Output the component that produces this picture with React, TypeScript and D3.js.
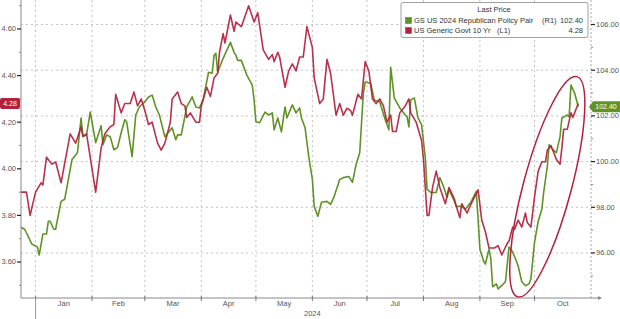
import React from "react";
import * as d3 from "d3";

const yieldSeries: [string, number][] = [
  ["2023-12-24",3.90],["2023-12-27",3.90],["2023-12-29",3.80],["2024-01-01",3.90],["2024-01-04",3.94],["2024-01-05",3.93],["2024-01-07",4.05],["2024-01-10",4.02],["2024-01-12",4.03],["2024-01-15",3.94],["2024-01-20",4.15],["2024-01-23",4.11],["2024-01-26",4.18],["2024-01-27",4.14],["2024-01-29",4.15],["2024-02-03",3.90],["2024-02-06",4.09],["2024-02-08",4.15],["2024-02-11",4.18],["2024-02-13",4.19],["2024-02-14",4.32],["2024-02-17",4.24],["2024-02-19",4.28],["2024-02-22",4.28],["2024-02-24",4.33],["2024-02-26",4.27],["2024-02-28",4.30],["2024-03-01",4.25],["2024-03-03",4.19],["2024-03-05",4.20],["2024-03-08",4.11],["2024-03-10",4.08],["2024-03-12",4.11],["2024-03-15",4.20],["2024-03-16",4.30],["2024-03-19",4.33],["2024-03-21",4.28],["2024-03-23",4.27],["2024-03-24",4.22],["2024-03-26",4.24],["2024-03-29",4.20],["2024-03-31",4.20],["2024-04-01",4.27],["2024-04-04",4.35],["2024-04-06",4.31],["2024-04-08",4.39],["2024-04-10",4.41],["2024-04-11",4.50],["2024-04-13",4.58],["2024-04-14",4.54],["2024-04-17",4.66],["2024-04-19",4.59],["2024-04-20",4.63],["2024-04-23",4.61],["2024-04-27",4.70],["2024-04-30",4.63],["2024-05-02",4.67],["2024-05-05",4.51],["2024-05-08",4.47],["2024-05-10",4.49],["2024-05-11",4.46],["2024-05-13",4.50],["2024-05-14",4.48],["2024-05-17",4.35],["2024-05-19",4.42],["2024-05-21",4.45],["2024-05-23",4.42],["2024-05-25",4.48],["2024-05-27",4.48],["2024-05-29",4.61],["2024-06-01",4.52],["2024-06-02",4.39],["2024-06-05",4.28],["2024-06-07",4.30],["2024-06-09",4.47],["2024-06-11",4.41],["2024-06-14",4.23],["2024-06-16",4.28],["2024-06-18",4.23],["2024-06-20",4.26],["2024-06-22",4.25],["2024-06-23",4.23],["2024-06-26",4.32],["2024-06-28",4.30],["2024-06-30",4.46],["2024-07-02",4.42],["2024-07-04",4.30],["2024-07-06",4.28],["2024-07-08",4.30],["2024-07-10",4.27],["2024-07-12",4.20],["2024-07-14",4.23],["2024-07-15",4.16],["2024-07-17",4.16],["2024-07-19",4.24],["2024-07-22",4.27],["2024-07-24",4.30],["2024-07-25",4.24],["2024-07-28",4.20],["2024-07-31",4.12],["2024-08-01",4.04],["2024-08-03",3.80],["2024-08-04",3.80],["2024-08-06",3.92],["2024-08-08",3.99],["2024-08-10",3.92],["2024-08-13",3.85],["2024-08-15",3.92],["2024-08-18",3.87],["2024-08-19",3.84],["2024-08-21",3.79],["2024-08-22",3.85],["2024-08-25",3.81],["2024-08-26",3.83],["2024-08-31",3.91],["2024-09-02",3.78],["2024-09-04",3.73],["2024-09-06",3.66],["2024-09-09",3.66],["2024-09-11",3.67],["2024-09-13",3.63],["2024-09-16",3.68],["2024-09-17",3.69],["2024-09-19",3.75],["2024-09-20",3.74],["2024-09-22",3.78],["2024-09-24",3.75],["2024-09-26",3.81],["2024-09-27",3.77],["2024-09-29",3.75],["2024-10-01",3.88],["2024-10-03",3.99],["2024-10-05",4.03],["2024-10-07",4.03],["2024-10-08",4.08],["2024-10-10",4.10],["2024-10-12",4.06],["2024-10-13",4.04],["2024-10-15",4.02],["2024-10-16",4.09],["2024-10-17",4.17],["2024-10-19",4.17],["2024-10-21",4.24],["2024-10-22",4.22],["2024-10-23",4.24],["2024-10-25",4.28]
];

const pairSeries: [string, number][] = [
  ["2023-12-24",97.13],["2023-12-26",97.04],["2023-12-30",96.39],["2024-01-02",96.26],["2024-01-03",95.91],["2024-01-05",96.83],["2024-01-07",96.83],["2024-01-08",97.39],["2024-01-09",97.39],["2024-01-11",97.04],["2024-01-12",97.04],["2024-01-15",98.26],["2024-01-17",98.35],["2024-01-18",98.78],["2024-01-21",100.09],["2024-01-24",100.39],["2024-01-26",101.91],["2024-01-27",101.09],["2024-01-29",101.17],["2024-01-31",102.17],["2024-02-03",100.83],["2024-02-06",101.57],["2024-02-07",100.74],["2024-02-09",101.17],["2024-02-11",101.09],["2024-02-13",100.52],["2024-02-15",100.61],["2024-02-17",101.26],["2024-02-19",101.83],["2024-02-20",101.74],["2024-02-23",100.22],["2024-02-25",102.04],["2024-02-27",102.39],["2024-03-01",102.61],["2024-03-03",102.83],["2024-03-05",102.91],["2024-03-07",102.39],["2024-03-09",102.04],["2024-03-12",101.09],["2024-03-16",101.48],["2024-03-18",100.96],["2024-03-19",101.17],["2024-03-21",101.17],["2024-03-24",102.39],["2024-03-27",102.83],["2024-03-29",102.39],["2024-03-31",102.35],["2024-04-02",102.70],["2024-04-05",103.91],["2024-04-07",103.87],["2024-04-08",104.65],["2024-04-09",104.74],["2024-04-10",103.91],["2024-04-13",104.52],["2024-04-15",104.87],["2024-04-17",105.22],["2024-04-19",104.78],["2024-04-20",104.65],["2024-04-21",104.43],["2024-04-23",104.43],["2024-04-26",103.78],["2024-04-29",103.35],["2024-04-30",102.70],["2024-05-01",101.74],["2024-05-03",101.70],["2024-05-06",102.17],["2024-05-08",102.04],["2024-05-10",102.13],["2024-05-11",101.39],["2024-05-13",101.91],["2024-05-15",101.30],["2024-05-17",102.39],["2024-05-18",101.91],["2024-05-21",102.48],["2024-05-23",102.13],["2024-05-25",102.35],["2024-05-26",101.91],["2024-05-28",101.48],["2024-05-30",100.22],["2024-06-01",99.22],["2024-06-02",98.04],["2024-06-04",97.61],["2024-06-06",98.22],["2024-06-09",98.26],["2024-06-11",98.13],["2024-06-13",98.48],["2024-06-16",99.22],["2024-06-18",99.30],["2024-06-21",99.35],["2024-06-23",99.09],["2024-06-25",99.87],["2024-06-27",100.39],["2024-06-29",103.00],["2024-06-30",103.48],["2024-07-03",103.43],["2024-07-05",102.70],["2024-07-08",102.61],["2024-07-11",101.83],["2024-07-13",101.39],["2024-07-14",104.13],["2024-07-16",102.78],["2024-07-19",102.35],["2024-07-22",102.04],["2024-07-23",101.96],["2024-07-24",101.52],["2024-07-25",102.70],["2024-07-27",102.78],["2024-07-29",101.91],["2024-07-31",101.61],["2024-08-02",100.17],["2024-08-03",98.78],["2024-08-05",98.65],["2024-08-08",98.65],["2024-08-10",99.30],["2024-08-12",98.91],["2024-08-14",98.43],["2024-08-15",98.78],["2024-08-18",98.26],["2024-08-19",98.04],["2024-08-22",98.04],["2024-08-24",97.91],["2024-08-27",98.22],["2024-08-30",98.70],["2024-08-31",97.48],["2024-09-01",96.17],["2024-09-03",95.65],["2024-09-04",95.52],["2024-09-06",96.17],["2024-09-07",95.74],["2024-09-08",94.52],["2024-09-10",94.65],["2024-09-11",94.43],["2024-09-13",94.57],["2024-09-15",94.74],["2024-09-17",96.26],["2024-09-19",96.04],["2024-09-21",95.65],["2024-09-22",95.43],["2024-09-24",94.74],["2024-09-26",94.57],["2024-09-28",94.65],["2024-09-29",94.87],["2024-10-01",96.48],["2024-10-03",97.39],["2024-10-05",97.91],["2024-10-06",98.65],["2024-10-08",99.78],["2024-10-09",100.74],["2024-10-11",100.52],["2024-10-13",100.39],["2024-10-15",101.09],["2024-10-16",101.91],["2024-10-19",102.04],["2024-10-20",101.96],["2024-10-21",103.35],["2024-10-23",103.00],["2024-10-25",102.40]
];

const leftTicks = [3.6, 3.8, 4.0, 4.2, 4.4, 4.6];
const leftMinor = [3.5, 3.7, 3.9, 4.1, 4.3, 4.5, 4.7];
const rightTicks = [96, 98, 100, 102, 104, 106];
const rightMinor = [95, 97, 99, 101, 103, 105];
const monthLabels = ["Jan", "Feb", "Mar", "Apr", "May", "Jun", "Jul", "Aug", "Sep", "Oct"];
const yearLabel = "2024";
const legendTitle = "Last Price";
const seriesNames = ["GS US 2024 Republican Policy Pair", "US Generic Govt 10 Yr"];
const seriesAxes = ["(R1)", "(L1)"];
const lastValues = [102.4, 4.28];

const GREEN = "#5f9326";
const RED = "#b3203d";
const FONT = "'Liberation Sans', Arial, sans-serif";

export default function App() {
  const W = 620, H = 319;
  const parse = d3.timeParse("%Y-%m-%d");
  const x = d3.scaleTime()
    .domain([new Date(2023, 11, 24), new Date(2024, 10, 1)])
    .range([21, 591]);
  const yL = d3.scaleLinear().domain([3.6, 4.6]).range([262, 29]);
  const yR = d3.scaleLinear().domain([96, 106]).range([253, 24.5]);
  const bottom = 298;

  const yieldData = yieldSeries.map(([d, v]) => ({ d: parse(d)!, v }));
  const pairData = pairSeries.map(([d, v]) => ({ d: parse(d)!, v }));
  const lineL = d3.line<{ d: Date; v: number }>().x(p => x(p.d)).y(p => yL(p.v));
  const lineR = d3.line<{ d: Date; v: number }>().x(p => x(p.d)).y(p => yR(p.v));

  const months = d3.timeMonth.range(new Date(2024, 0, 1), new Date(2024, 10, 1));
  const grid = "#c4c4c4";
  const textCol = "#555";

  const ellCx = x(new Date(2024, 9, 8)), ellCy = yR(98.9);

  const lastR = yR(lastValues[0]);
  const lastL = yL(lastValues[1]);

  return (
    <svg width={W} height={H} style={{ position: "absolute", left: 0, top: 0, background: "#fff" }} fontFamily={FONT}>
      <rect x={0} y={0} width={W} height={H} fill="#fff" />
      {rightTicks.map(t => (
        <line key={"hg" + t} x1={21} x2={591} y1={yR(t)} y2={yR(t)} stroke={grid} strokeWidth={1} strokeDasharray="2,3" />
      ))}
      {months.map((m, i) => (
        <line key={"vg" + i} x1={x(m)} x2={x(m)} y1={0} y2={bottom} stroke={grid} strokeWidth={1} strokeDasharray="2,3" />
      ))}
      <line x1={591} x2={591} y1={0} y2={bottom} stroke="#aaa" strokeWidth={1} strokeDasharray="2,2" />
      <path d={lineR(pairData) || ""} fill="none" stroke={GREEN} strokeWidth={1.6} strokeLinejoin="round" />
      <path d={lineL(yieldData) || ""} fill="none" stroke={RED} strokeWidth={1.6} strokeLinejoin="round" opacity={0.92} />
      <ellipse cx={ellCx} cy={ellCy} rx={24} ry={114} fill="none" stroke={RED} strokeWidth={1.5}
        transform={`rotate(15, ${ellCx}, ${ellCy})`} />
      <line x1={21} x2={21} y1={0} y2={bottom} stroke="#888" strokeWidth={1} />
      {leftMinor.map(t => (
        <line key={"lm" + t} x1={19} x2={21} y1={yL(t)} y2={yL(t)} stroke="#888" strokeWidth={1} />
      ))}
      {leftTicks.map(t => (
        <g key={"lt" + t}>
          <line x1={17} x2={21} y1={yL(t)} y2={yL(t)} stroke="#222" strokeWidth={1.2} />
          <text x={16} y={yL(t)} dy="0.33em" textAnchor="end" fontSize={7.5} fill={textCol}>{t.toFixed(2)}</text>
        </g>
      ))}
      {rightMinor.map(t => (
        <line key={"rm" + t} x1={591} x2={593} y1={yR(t)} y2={yR(t)} stroke="#888" strokeWidth={1} />
      ))}
      {rightTicks.map(t => (
        <g key={"rt" + t}>
          <line x1={591} x2={595} y1={yR(t)} y2={yR(t)} stroke="#222" strokeWidth={1.2} />
          <text x={596} y={yR(t)} dy="0.33em" fontSize={7.5} fill={textCol}>{t.toFixed(2)}</text>
        </g>
      ))}
      <line x1={21} x2={598} y1={bottom} y2={bottom} stroke="#888" strokeWidth={1} />
      <path d={`M598,${bottom - 2} L602,${bottom} L598,${bottom + 2} Z`} fill="#888" />
      {months.map((m, i) => (
        <line key={"bt" + i} x1={x(m)} x2={x(m)} y1={bottom - 2} y2={bottom + 3} stroke="#777" strokeWidth={1} />
      ))}
      {months.map((m, i) => {
        const next = d3.timeMonth.offset(m, 1);
        return (
          <text key={"ml" + i} x={(x(m) + x(next)) / 2} y={306} textAnchor="middle" fontSize={7.5} fill={textCol}>
            {monthLabels[i]}
          </text>
        );
      })}
      <line x1={x(months[0])} x2={x(months[0])} y1={bottom} y2={H} stroke="#999" strokeWidth={1} />
      <text x={x(new Date(2024, 5, 1))} y={316} textAnchor="middle" fontSize={7.5} fill={textCol}>{yearLabel}</text>
      <rect x={0} y={lastL - 5.5} width={20} height={11} rx={2} fill={RED} />
      <text x={10} y={lastL} dy="0.33em" textAnchor="middle" fontSize={7} fill="#fff">{lastValues[1].toFixed(2)}</text>
      <path d={`M589,${lastR} L593,${lastR - 5.5} L620,${lastR - 5.5} L620,${lastR + 5.5} L593,${lastR + 5.5} Z`} fill={GREEN} />
      <text x={606} y={lastR} dy="0.33em" textAnchor="middle" fontSize={7} fill="#fff">{lastValues[0].toFixed(2)}</text>
      <rect x={401} y={2.5} width={187} height={35} rx={2} fill="#fff" stroke="#a0a0a0" strokeWidth={1} />
      <text x={494} y={10} dy="0.33em" textAnchor="middle" fontSize={7.5} fill="#333">{legendTitle}</text>
      {[GREEN, RED].map((c, i) => {
        const cy = 20.5 + i * 10;
        return (
          <g key={"lg" + i}>
            <rect x={405.5} y={cy - 3} width={6} height={6} fill={c} stroke="#444" strokeWidth={0.4} />
            <text x={414} y={cy} dy="0.33em" fontSize={7.5} fill="#333">{seriesNames[i]}</text>
            <text x={i === 0 ? 542 : 497} y={cy} dy="0.33em" fontSize={7.5} fill="#333">{seriesAxes[i]}</text>
            <text x={583} y={cy} dy="0.33em" textAnchor="end" fontSize={7.5} fill="#333">{lastValues[i].toFixed(2)}</text>
          </g>
        );
      })}
    </svg>
  );
}
